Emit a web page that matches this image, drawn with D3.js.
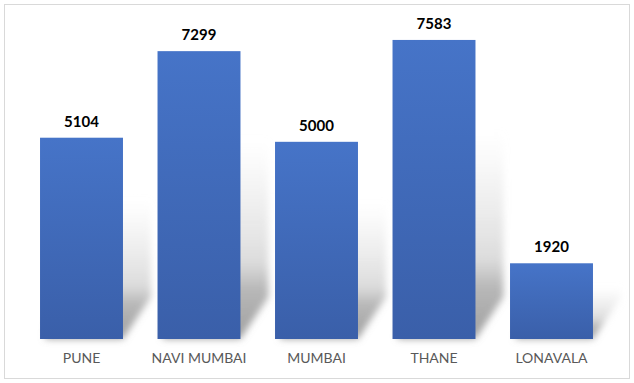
<!DOCTYPE html>
<html><head><meta charset="utf-8">
<script src="https://cdn.jsdelivr.net/npm/d3@7"></script>
<style>html,body{margin:0;padding:0;background:#fff;}svg{display:block;}</style>
</head><body>
<script>
const categories = ["PUNE", "NAVI MUMBAI", "MUMBAI", "THANE", "LONAVALA"];
const values = [5104, 7299, 5000, 7583, 1920];

const W = 634, H = 383;
const svg = d3.select("body").append("svg").attr("width", W).attr("height", H);
const defs = svg.append("defs");

const g1 = defs.append("linearGradient").attr("id", "barGrad").attr("x1", 0).attr("y1", 0).attr("x2", 0).attr("y2", 1);
g1.append("stop").attr("offset", "0%").attr("stop-color", "#4674C8");
g1.append("stop").attr("offset", "100%").attr("stop-color", "#3A5FA9");

const g2 = defs.append("linearGradient").attr("id", "shGrad").attr("x1", 0).attr("y1", 1).attr("x2", 0).attr("y2", 0);
g2.append("stop").attr("offset", "0%").attr("stop-color", "#888").attr("stop-opacity", 0.8);
g2.append("stop").attr("offset", "25%").attr("stop-color", "#999").attr("stop-opacity", 0.7);
g2.append("stop").attr("offset", "38%").attr("stop-color", "#c4c4c4").attr("stop-opacity", 0.6);
g2.append("stop").attr("offset", "70%").attr("stop-color", "#d6d6d6").attr("stop-opacity", 0.35);
g2.append("stop").attr("offset", "100%").attr("stop-color", "#e4e4e4").attr("stop-opacity", 0.0);

const blur = defs.append("filter").attr("id", "blur").attr("x", "-50%").attr("y", "-50%").attr("width", "200%").attr("height", "200%");
blur.append("feGaussianBlur").attr("stdDeviation", 3.5);

svg.append("rect").attr("x", 4.5).attr("y", 4.5).attr("width", 625).attr("height", 374)
  .attr("fill", "#fff").attr("stroke", "#d9d9d9").attr("stroke-width", 1);

const x = d3.scaleBand().domain(categories).range([22.75, 610.25]).paddingInner(0.294).paddingOuter(0.147);
const y = d3.scaleLinear().domain([0, 8000]).range([339, 23.5]);

const data = categories.map((c, i) => ({c, v: values[i]}));

// perspective shadows
svg.append("g").selectAll("path").data(data).join("path")
  .attr("d", d => {
    const x0 = x(d.c), x1 = x0 + x.bandwidth();
    const y0 = y(0), h = y(0) - y(d.v);
    const top = y(d.v) + h * 0.3;
    return `M${x0 + 5},${y0} L${x1},${y0} L${x1 + 28},${y0 - 42} L${x1 + 28},${top} L${x0 + 26},${top} Z`;
  })
  .attr("fill", "url(#shGrad)")
  .attr("filter", "url(#blur)");

svg.append("g").selectAll("rect").data(data).join("rect")
  .attr("x", d => x(d.c))
  .attr("y", d => y(d.v))
  .attr("width", x.bandwidth())
  .attr("height", d => y(0) - y(d.v))
  .attr("fill", "url(#barGrad)");

svg.append("g").selectAll("text").data(data).join("text")
  .attr("x", d => x(d.c) + x.bandwidth() / 2)
  .attr("y", d => y(d.v) - 11)
  .attr("text-anchor", "middle")
  .attr("font-family", "Lato, 'Open Sans', sans-serif")
  .attr("font-weight", "bold")
  .attr("font-size", "15px")
  .attr("fill", "#000")
  .text(d => d.v);

const xAxis = svg.append("g").attr("transform", `translate(0,${y(0)})`)
  .call(d3.axisBottom(x).tickSize(0).tickPadding(14));
xAxis.select(".domain").remove();
xAxis.selectAll("text")
  .attr("font-family", "Lato, 'Open Sans', sans-serif")
  .attr("font-size", "14px")
  .attr("fill", "#595959");
</script>
</body></html>
